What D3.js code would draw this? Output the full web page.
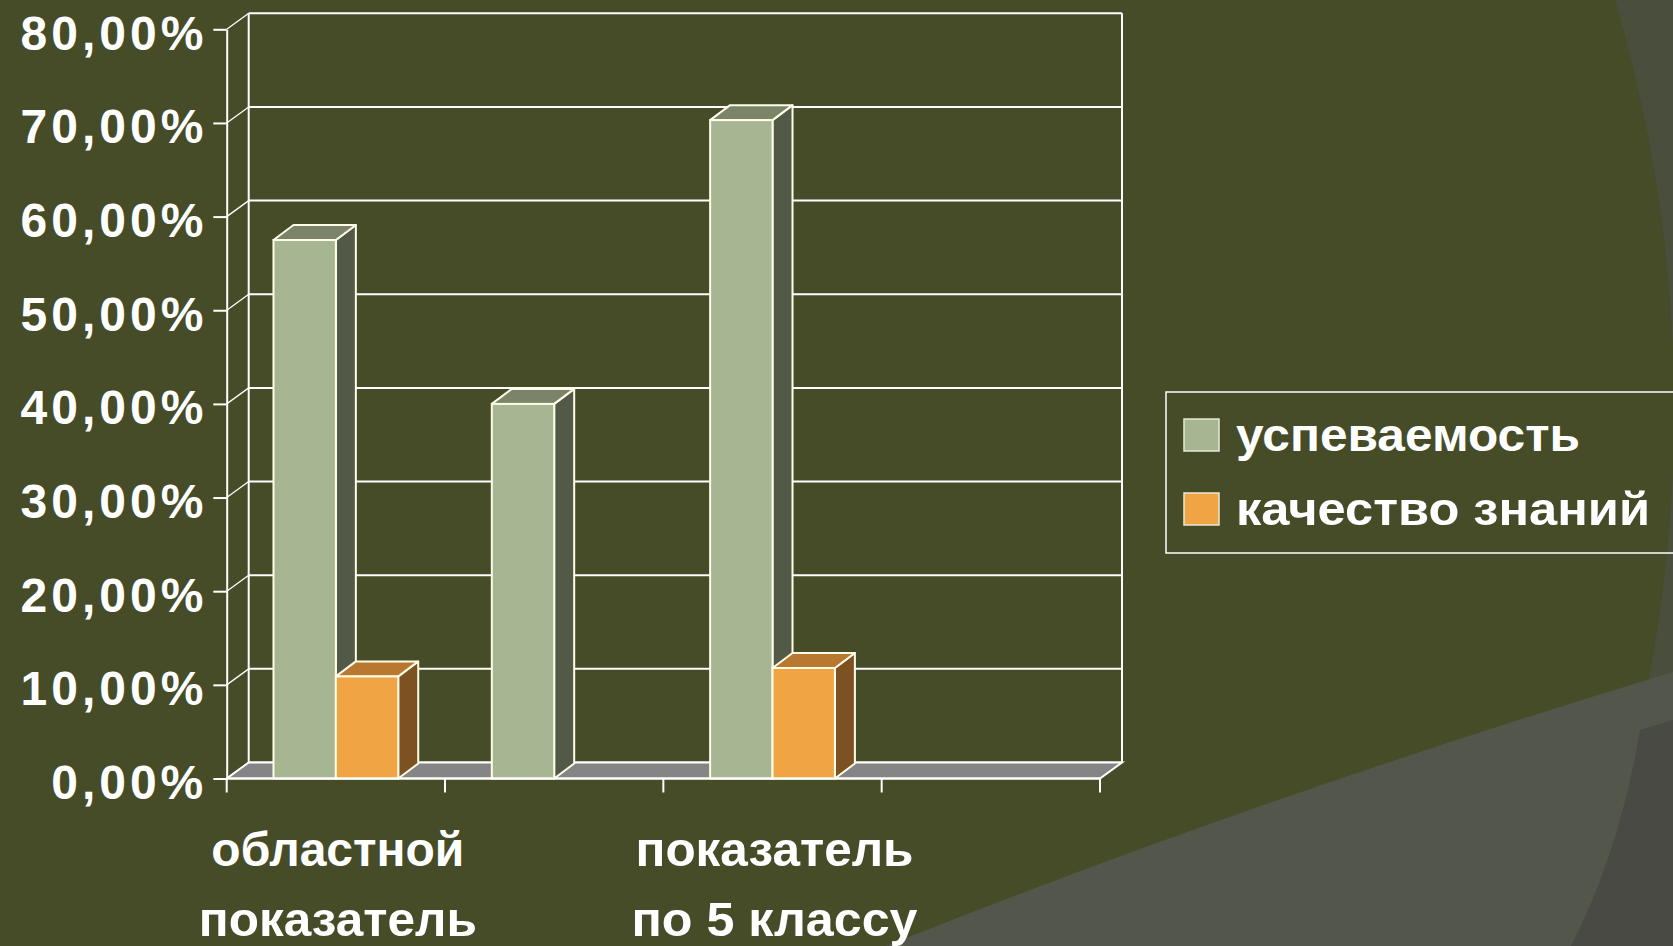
<!DOCTYPE html>
<html>
<head>
<meta charset="utf-8">
<script src="https://cdn.jsdelivr.net/npm/d3@7"></script>
<style>
  html, body { margin: 0; padding: 0; background: #454c27; overflow: hidden; }
  svg { display: block; }
  text { font-family: "Liberation Sans", Arial, sans-serif; font-weight: bold; fill: #fff; }
</style>
</head>
<body>
<svg class="chart"></svg>
<script>
// data
const categories = ["областной\nпоказатель", "", "показатель\nпо 5 классу", ""];
const series = ["успеваемость", "качество знаний"];
const uspevaemost = [0.575, 0.40, 0.703, 0];
const kachestvo = [0.109, 0, 0.118, 0];
const yTicks = [0, 0.1, 0.2, 0.3, 0.4, 0.5, 0.6, 0.7, 0.8];

const W = 1673, H = 946;
const colors = {
  "успеваемость": { front: "#a6b592", side: "#525a47", top: "#7b8468" },
  "качество знаний": { front: "#f0a444", side: "#7d5122", top: "#b8782f" }
};

const svg = d3.select(".chart").attr("width", W).attr("height", H);

// slide background decoration
svg.append("rect").attr("width", W).attr("height", H).attr("fill", "#454c27");
svg.append("path")
  .attr("d", "M1615,0 A1446,1446 0 0 1 1571,946 L1673,946 L1673,0 Z")
  .attr("fill", "#4a4e3c");
svg.append("path")
  .attr("d", "M886,946 Q1250,800 1673,672 L1673,946 Z")
  .attr("fill", "#53564a");
svg.append("path")
  .attr("d", "M1640,730 Q1620,850 1571,946 L1673,946 L1673,720 Z")
  .attr("fill", "#4a4a44");

// plot frame
const x0 = 226.7, x1 = 1100;
const y = d3.scaleLinear().domain([0, 0.8]).range([778.5, 29.3]);
const depth = { dx: 22, dy: -16 };     // wall depth
const barDepth = { dx: 20, dy: -15 };  // column depth

const x = d3.scaleBand().domain(d3.range(categories.length)).range([x0, x1]).padding(0);
const xs = d3.scaleBand().domain(series).range([0, x.bandwidth()]).paddingInner(0).paddingOuter(0.75);

const g = svg.append("g");
const line = "#ffffff";

// back wall gridlines
g.selectAll(".grid").data(yTicks).enter().append("line")
  .attr("x1", x0 + depth.dx).attr("x2", x1 + depth.dx)
  .attr("y1", d => y(d) + depth.dy).attr("y2", d => y(d) + depth.dy)
  .attr("stroke", line).attr("stroke-width", 2);
// side wall gridlines
g.selectAll(".sgrid").data(yTicks).enter().append("line")
  .attr("x1", x0).attr("x2", x0 + depth.dx)
  .attr("y1", d => y(d)).attr("y2", d => y(d) + depth.dy)
  .attr("stroke", line).attr("stroke-width", 1.3);
// wall edges
[x0 + depth.dx, x1 + depth.dx].forEach(xx => {
  g.append("line").attr("x1", xx).attr("x2", xx)
    .attr("y1", y(0.8) + depth.dy).attr("y2", y(0) + depth.dy)
    .attr("stroke", line).attr("stroke-width", 2);
});

// floor
g.append("path")
  .attr("d", `M${x0},${y(0)} L${x1},${y(0)} L${x1 + depth.dx},${y(0) + depth.dy} L${x0 + depth.dx},${y(0) + depth.dy} Z`)
  .attr("fill", "#858585").attr("stroke", line).attr("stroke-width", 2);

// columns
const bars = [];
categories.forEach((c, i) => {
  series.forEach((s, j) => {
    const v = (j === 0 ? uspevaemost : kachestvo)[i];
    if (v > 0) bars.push({ i, s, v });
  });
});

const bar = g.selectAll(".bar").data(bars).enter().append("g").attr("class", "bar");
const bx = d => x(d.i) + xs(d.s);
const bw = xs.bandwidth();
const stroke = "#fffde8";

bar.append("path")
  .attr("d", d => {
    const l = bx(d) + bw, t = y(d.v), b = y(0);
    return `M${l},${b} L${l + barDepth.dx},${b + barDepth.dy} L${l + barDepth.dx},${t + barDepth.dy} L${l},${t} Z`;
  })
  .attr("fill", d => colors[d.s].side).attr("stroke", stroke).attr("stroke-width", 2).attr("stroke-linejoin", "round");
bar.append("path")
  .attr("d", d => {
    const l = bx(d), t = y(d.v);
    return `M${l},${t} L${l + barDepth.dx},${t + barDepth.dy} L${l + bw + barDepth.dx},${t + barDepth.dy} L${l + bw},${t} Z`;
  })
  .attr("fill", d => colors[d.s].top).attr("stroke", stroke).attr("stroke-width", 2).attr("stroke-linejoin", "round");
bar.append("rect")
  .attr("x", bx).attr("y", d => y(d.v))
  .attr("width", bw).attr("height", d => y(0) - y(d.v))
  .attr("fill", d => colors[d.s].front).attr("stroke", stroke).attr("stroke-width", 2);

// y axis
const fmt = d3.formatLocale({ decimal: ",", thousands: " ", grouping: [3], currency: ["", ""] }).format(".2%");
const yAxis = g.append("g")
  .attr("transform", `translate(${x0},0)`)
  .call(d3.axisLeft(y).tickValues(yTicks).tickFormat(fmt).tickSize(13.4).tickSizeOuter(0).tickPadding(6));
yAxis.selectAll("path, line").attr("stroke", line).attr("stroke-width", 2);
yAxis.selectAll("text")
  .attr("font-size", 48).attr("letter-spacing", 4).attr("dy", 20)
  .attr("fill", "#fff").attr("font-family", "Liberation Sans, Arial, sans-serif").attr("font-weight", "bold");

// x axis front edge and ticks at category boundaries
const xb = d3.range(categories.length + 1).map(k => x0 + k * x.step());
g.append("line").attr("x1", x0).attr("x2", x1).attr("y1", y(0)).attr("y2", y(0))
  .attr("stroke", line).attr("stroke-width", 2);
g.selectAll(".xtick").data(xb).enter().append("line")
  .attr("x1", d => d).attr("x2", d => d)
  .attr("y1", y(0)).attr("y2", y(0) + 14)
  .attr("stroke", line).attr("stroke-width", 2);

// category labels (two lines each)
const catLengths = { "областной": 253, "показатель": 278, "по 5 классу": 286 };
categories.forEach((c, i) => {
  if (!c) return;
  c.split("\n").forEach((ln, k) => {
    g.append("text")
      .attr("x", x(i) + x.bandwidth() / 2 + 2)
      .attr("y", 866 + k * 70)
      .attr("text-anchor", "middle")
      .attr("font-size", 48)
      .attr("textLength", catLengths[ln])
      .attr("lengthAdjust", "spacingAndGlyphs")
      .text(ln);
  });
});

// legend
const lg = svg.append("g");
lg.append("rect").attr("x", 1166).attr("y", 392).attr("width", 540).attr("height", 161)
  .attr("fill", "none").attr("stroke", line).attr("stroke-width", 1.5);
const legendLengths = [344, 414];
series.forEach((s, j) => {
  const yy = 419 + j * 74;
  lg.append("rect").attr("x", 1184).attr("y", yy).attr("width", 35).attr("height", 32)
    .attr("fill", colors[s].front).attr("stroke", "#e8e8d8").attr("stroke-width", 1.5);
  lg.append("text").attr("x", 1236).attr("y", yy + 32)
    .attr("font-size", 46)
    .attr("textLength", legendLengths[j]).attr("lengthAdjust", "spacingAndGlyphs")
    .text(s);
});
</script>
</body>
</html>
